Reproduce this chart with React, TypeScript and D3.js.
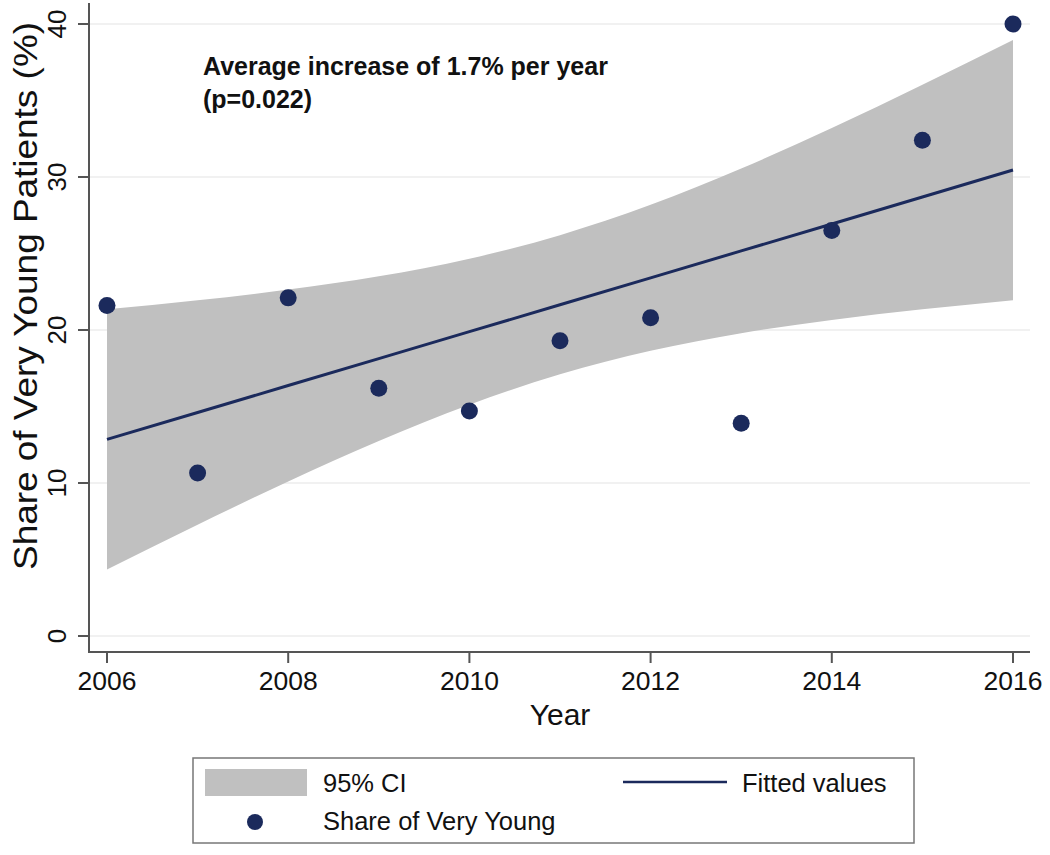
import React from "react";
import * as d3 from "d3";

const years = [2006, 2007, 2008, 2009, 2010, 2011, 2012, 2013, 2014, 2015, 2016];
const shareVeryYoung = [21.6, 10.65, 22.1, 16.2, 14.7, 19.3, 20.8, 13.9, 26.5, 32.4, 40.0];
const fittedValues = [12.85, 14.61, 16.37, 18.13, 19.89, 21.65, 23.41, 25.17, 26.93, 28.69, 30.46];
const ciLower = [4.34, 7.27, 10.1, 12.75, 15.12, 17.1, 18.64, 19.79, 20.66, 21.36, 21.95];
const ciUpper = [21.35, 21.94, 22.64, 23.51, 24.66, 26.2, 28.18, 30.55, 33.2, 36.03, 38.96];
const xTicks = [2006, 2008, 2010, 2012, 2014, 2016];
const yTicks = [0, 10, 20, 30, 40];

const FONT = "'Liberation Sans', Arial, Helvetica, sans-serif";
const NAVY = "#1b2a5c";
const BAND = "#c0c0c0";

export default function App() {
  const x = d3.scaleLinear().domain([2006, 2016]).range([107, 1013]);
  const y = d3.scaleLinear().domain([0, 40]).range([636, 24]);

  const bandData = years.map((yr, i) => ({ yr, lo: ciLower[i], hi: ciUpper[i] }));
  const area = d3
    .area<{ yr: number; lo: number; hi: number }>()
    .x((d) => x(d.yr))
    .y0((d) => y(d.lo))
    .y1((d) => y(d.hi))
    .curve(d3.curveNatural);
  const line = d3
    .line<number>()
    .x((_, i) => x(years[i]))
    .y((d) => y(d));

  const axisLeft = 89;
  const axisBottom = 652;
  const axisRight = 1030;

  return (
    <svg width={1050} height={855} style={{ position: "absolute", left: 0, top: 0, background: "#fff" }} fontFamily={FONT}>
      <rect x={0} y={0} width={1050} height={855} fill="#fff" />
      {yTicks.map((t) => (
        <line key={"g" + t} x1={axisLeft} x2={axisRight} y1={y(t)} y2={y(t)} stroke="#ececec" strokeWidth={1.5} />
      ))}
      <path d={area(bandData) || ""} fill={BAND} />
      <path d={line(fittedValues) || ""} fill="none" stroke={NAVY} strokeWidth={3} />
      {shareVeryYoung.map((v, i) => (
        <circle key={"p" + i} cx={x(years[i])} cy={y(v)} r={8.5} fill={NAVY} />
      ))}
      <line x1={axisLeft} x2={axisLeft} y1={3} y2={axisBottom + 1} stroke="#555" strokeWidth={2} />
      <line x1={axisLeft - 1} x2={axisRight} y1={axisBottom} y2={axisBottom} stroke="#555" strokeWidth={2} />
      {yTicks.map((t) => (
        <g key={"yt" + t}>
          <line x1={axisLeft - 11} x2={axisLeft} y1={y(t)} y2={y(t)} stroke="#555" strokeWidth={2} />
          <text transform={`translate(66,${y(t)}) rotate(-90)`} textAnchor="middle" fontSize={26} fill="#111">
            {t}
          </text>
        </g>
      ))}
      {xTicks.map((t) => (
        <g key={"xt" + t}>
          <line x1={x(t)} x2={x(t)} y1={axisBottom} y2={axisBottom + 11} stroke="#555" strokeWidth={2} />
          <text x={x(t)} y={690} textAnchor="middle" fontSize={26.5} fill="#111">
            {t}
          </text>
        </g>
      ))}
      <text x={560} y={725} textAnchor="middle" fontSize={30} fill="#111">
        Year
      </text>
      <text
        transform="translate(37,296) rotate(-90)"
        textAnchor="middle"
        fontSize={33}
        textLength={548}
        lengthAdjust="spacingAndGlyphs"
        fill="#111"
      >
        Share of Very Young Patients (%)
      </text>
      <text x={203} y={75} fontSize={25} fontWeight="bold" fill="#111">
        Average increase of 1.7% per year
      </text>
      <text x={203} y={108} fontSize={25} fontWeight="bold" fill="#111">
        (p=0.022)
      </text>
      <rect x={193} y={758} width={721} height={85} fill="#fff" stroke="#777" strokeWidth={1.5} />
      <rect x={205} y={769} width={102} height={27} fill={BAND} />
      <text x={323} y={792} fontSize={25.5} fill="#111">
        95% CI
      </text>
      <line x1={623} x2={727} y1={782} y2={782} stroke={NAVY} strokeWidth={2.5} />
      <text x={742} y={792} fontSize={25.5} fill="#111">
        Fitted values
      </text>
      <circle cx={255} cy={822} r={8} fill={NAVY} />
      <text x={323} y={830} fontSize={25.5} fill="#111">
        Share of Very Young
      </text>
    </svg>
  );
}
